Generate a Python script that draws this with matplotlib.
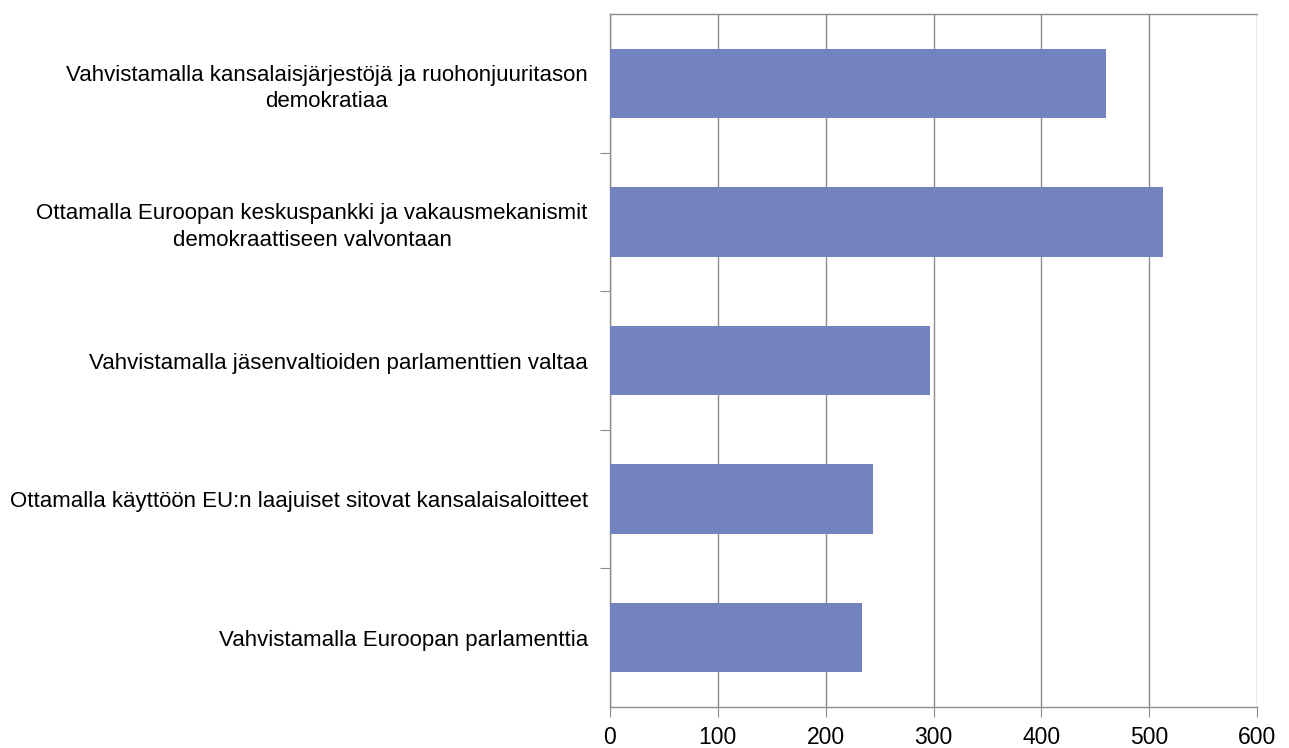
import matplotlib
matplotlib.use("Agg")
import matplotlib.pyplot as plt
from matplotlib.ticker import FixedLocator, NullFormatter

categories = [
    "Vahvistamalla kansalaisjärjestöjä ja ruohonjuuritason\ndemokratiaa",
    "Ottamalla Euroopan keskuspankki ja vakausmekanismit\ndemokraattiseen valvontaan",
    "Vahvistamalla jäsenvaltioiden parlamenttien valtaa",
    "Ottamalla käyttöön EU:n laajuiset sitovat kansalaisaloitteet",
    "Vahvistamalla Euroopan parlamenttia",
]
values = [460, 513, 297, 244, 234]
xticks = [0, 100, 200, 300, 400, 500, 600]

plt.rcParams['font.family'] = ['Liberation Sans', 'DejaVu Sans']

W, H = 1289, 748
fig = plt.figure(figsize=(W / 100, H / 100), dpi=100)
ax = fig.add_axes([610 / W, 1 - 707 / H, (1257 - 610) / W, (707 - 14) / H])

n = len(categories)
ypos = list(range(n))[::-1]
ax.barh(ypos, values, height=0.5, color="#7383C0", zorder=3)

ax.set_xlim(0, 600)
ax.set_ylim(-0.5, n - 0.5)
ax.set_xticks(xticks)
ax.set_xticklabels([str(t) for t in xticks], fontsize=16.5)
ax.xaxis.grid(True, color="#8c8c8c", linewidth=1.0, zorder=0)

ax.yaxis.set_major_locator(FixedLocator([i + 0.5 for i in range(n - 1)]))
ax.yaxis.set_major_formatter(NullFormatter())
ax.set_yticks(ypos, minor=True)
ax.set_yticklabels(categories, minor=True, fontsize=16, ha="right",
                   multialignment="center", linespacing=1.35)
ax.tick_params(axis="y", which="minor", length=0, pad=16)
ax.tick_params(axis="y", which="major", length=7, color="#8c8c8c", direction="out")
ax.tick_params(axis="x", length=7, color="#8c8c8c", direction="out", pad=7)

for side in ["left", "bottom", "top", "right"]:
    ax.spines[side].set_color("#8c8c8c")
    ax.spines[side].set_linewidth(1.0)
ax.spines["right"].set_visible(False)

fig.savefig("out.png", dpi=100, facecolor="white")
